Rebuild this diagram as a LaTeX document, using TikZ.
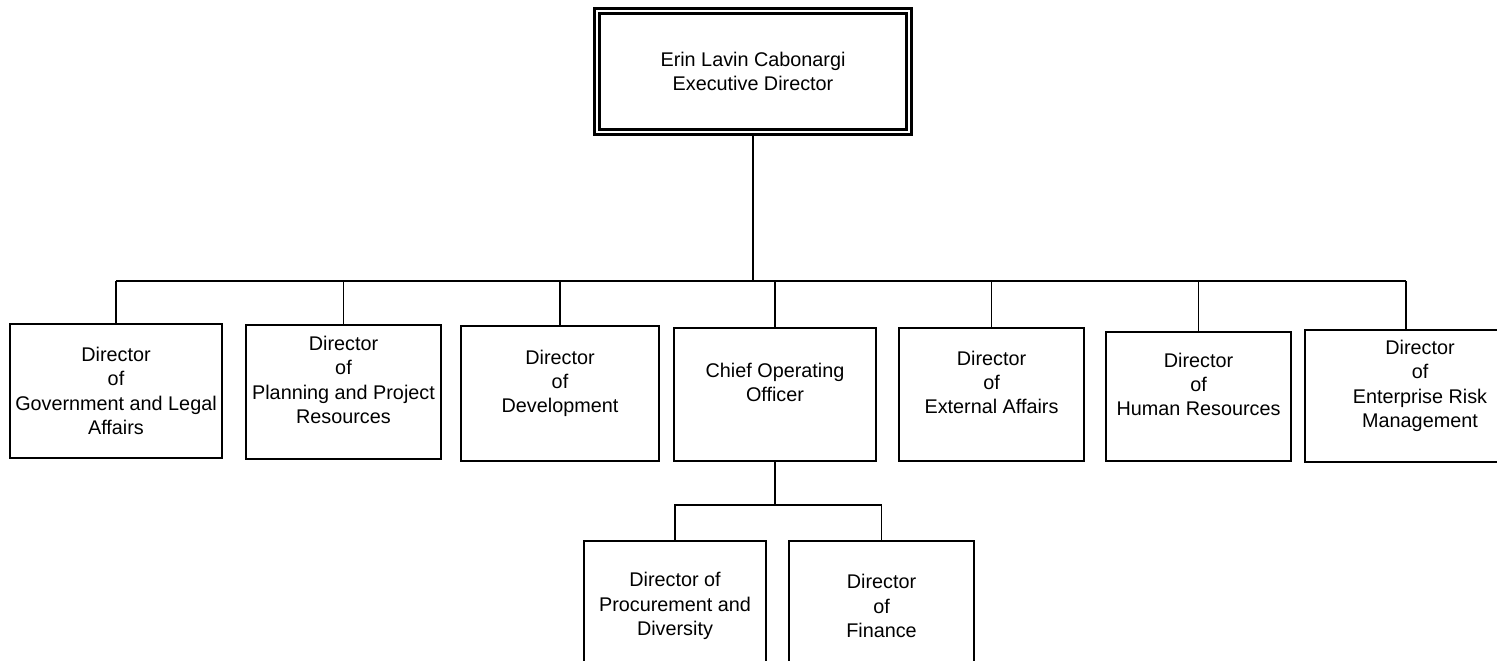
\documentclass[tikz,border=0pt]{standalone}
\usepackage{fontspec}
\setmainfont{Liberation Sans}
\begin{document}
\begin{tikzpicture}[x=1pt,y=-1pt,
  box/.style={draw, line width=2.4pt, align=center, inner sep=0pt,
    font=\fontsize{19.8}{24.3}\selectfont},
  conn/.style={line width=1.4pt}]
\path[fill=white,use as bounding box] (0,0) rectangle (1497,661);
% top box
\node[box, double, line width=2.8pt, double distance=2pt,
  minimum width=312.4pt, minimum height=121.4pt] (ed) at (753,71.5)
  {Erin Lavin Cabonargi\\Executive Director};
% second row
\node[box, minimum width=211.6pt, minimum height=133.6pt] (b1) at (116,391)
  {Director\\of\\Government and Legal\\Affairs};
\node[box, minimum width=194.6pt, minimum height=133.6pt] (b2) at (343.5,392)
  {Director\\of\\Planning and Project\\Resources\\\mbox{}};
\node[box, minimum width=197.6pt, minimum height=134.6pt] (b3) at (560,393.5)
  {Director\\of\\Development\\\mbox{}};
\node[box, minimum width=201.6pt, minimum height=132.6pt] (b4) at (775,394.5)
  {Chief Operating\\Officer\\\mbox{}};
\node[box, minimum width=184.6pt, minimum height=132.6pt] (b5) at (991.5,394.5)
  {Director\\of\\External Affairs\\\mbox{}};
\node[box, minimum width=184.6pt, minimum height=128.6pt] (b6) at (1198.5,396.5)
  {Director\\of\\Human Resources\\\mbox{}};
\node[box, minimum width=229.6pt, minimum height=131.6pt] (b7) at (1420,396)
  {Director\\of\\Enterprise Risk\\Management\\\mbox{}};
% third row
\node[box, minimum width=181.6pt, minimum height=129.6pt] (bA) at (675,606)
  {Director of\\Procurement and\\Diversity};
\node[box, minimum width=184.6pt, minimum height=129.6pt] (bB) at (881.5,606)
  {Director\\of\\Finance};
% connectors
\coordinate (bus) at (752,281);
\coordinate (d7) at (1406,329);
\draw[conn] (ed.south) -- (ed.south |- bus);
\draw[conn] (b1.north |- bus) -- (d7 |- bus);
\foreach \b in {b1,b2,b3,b4,b5,b6}
  \draw[conn] (\b.north) -- (\b.north |- bus);
\draw[conn] (d7) -- (d7 |- bus);
\coordinate (cbus) at (775,505);
\draw[conn] (b4.south) -- (b4.south |- cbus);
\draw[conn] (bA.north) |- (cbus) -| (bB.north);
\end{tikzpicture}
\end{document}
